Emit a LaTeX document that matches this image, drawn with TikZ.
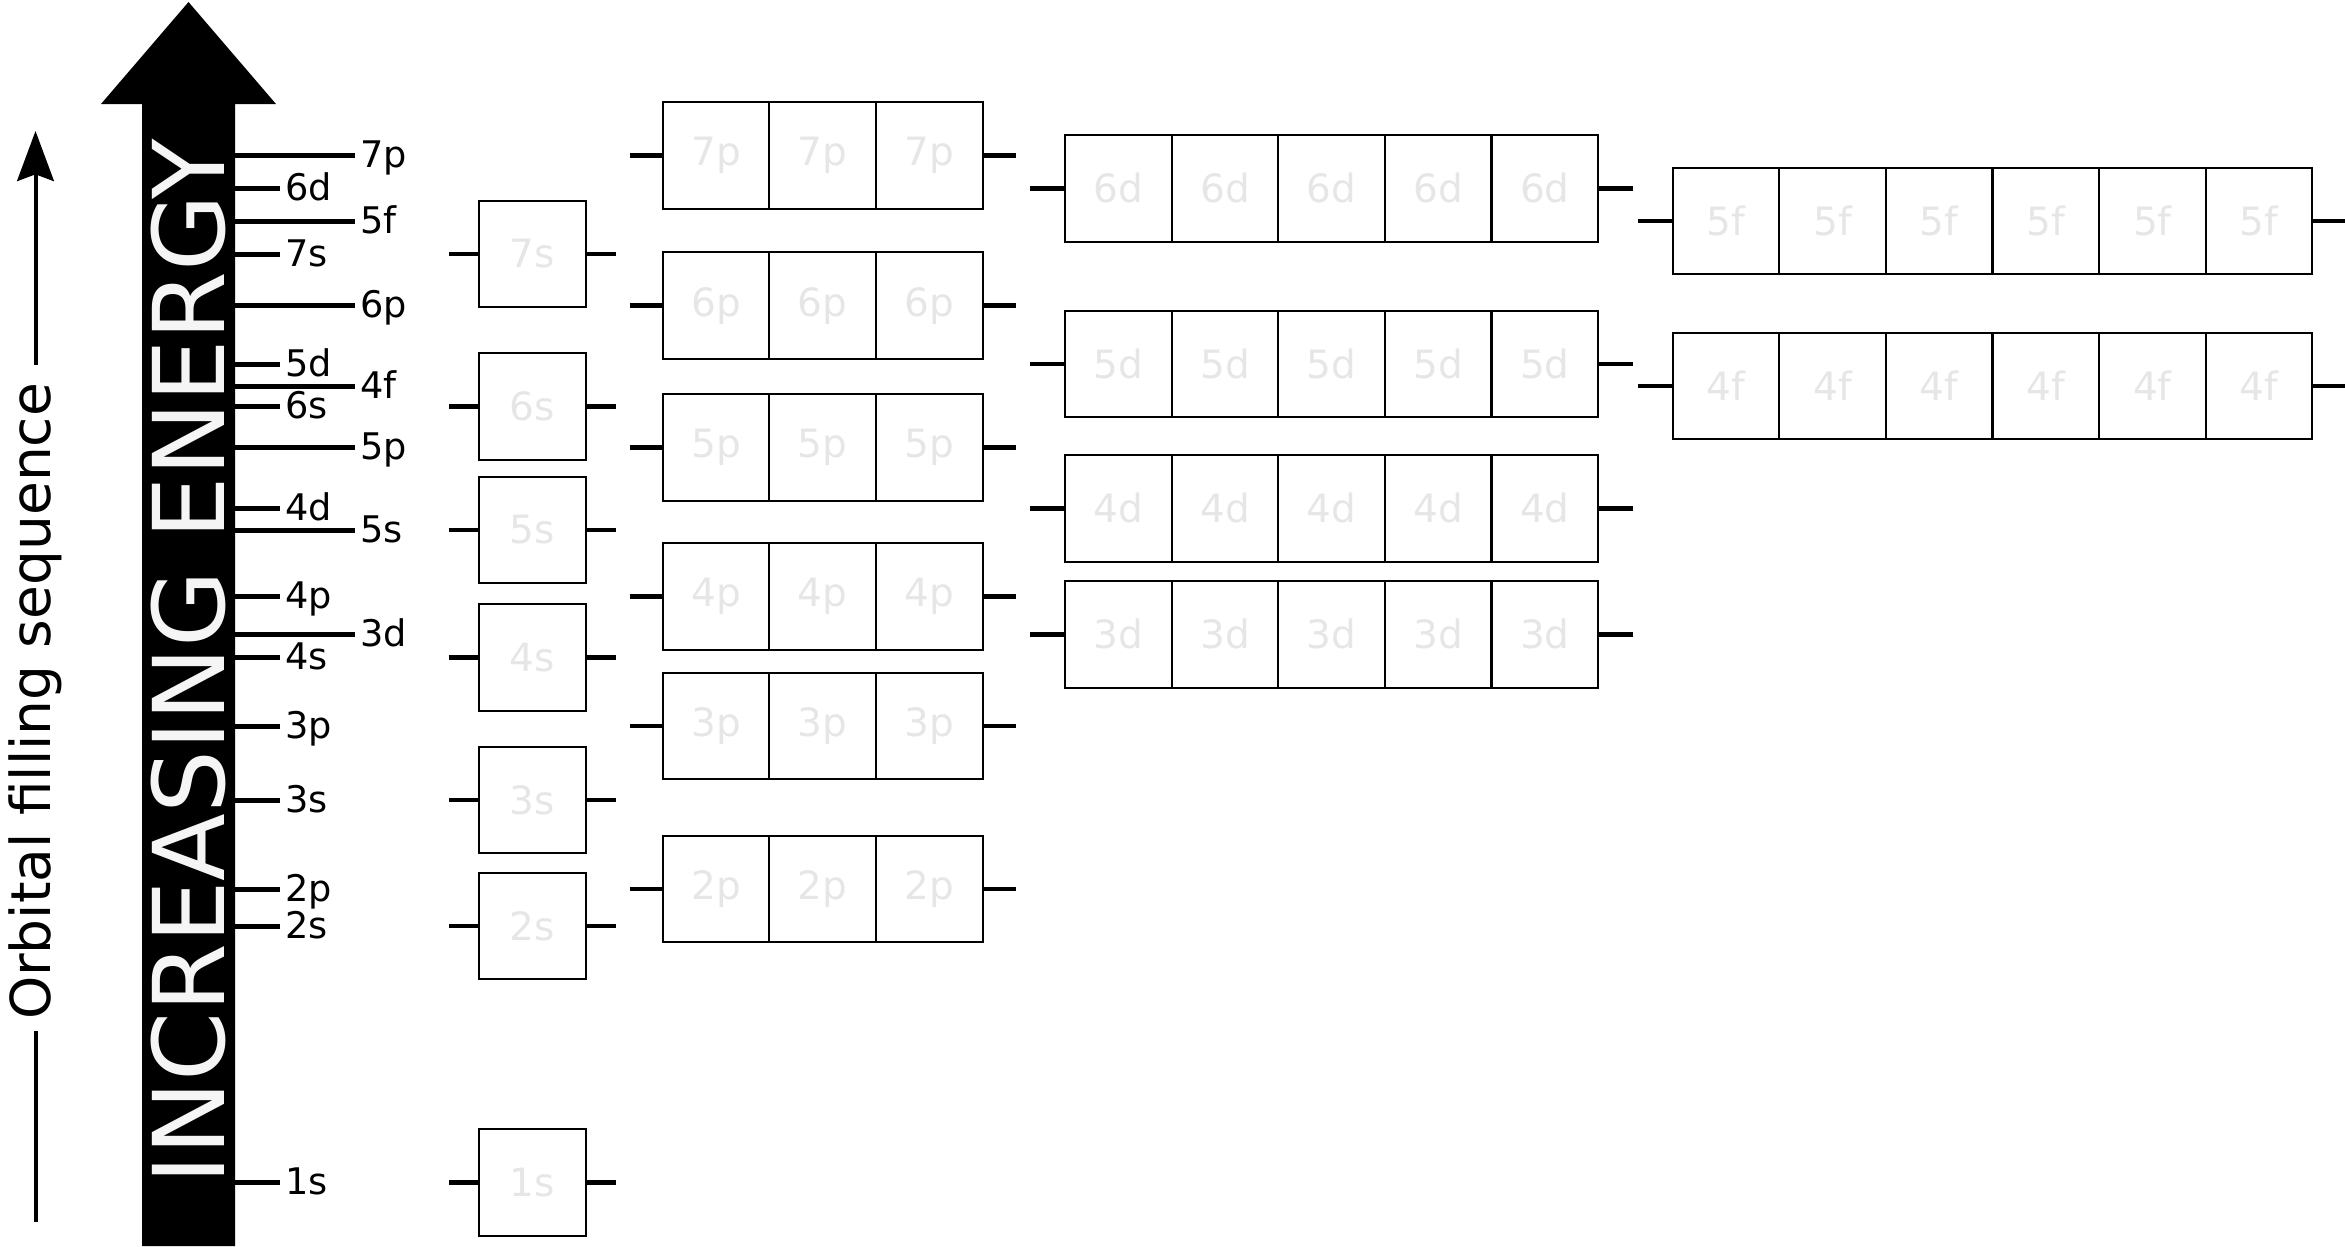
\documentclass[tikz,border=0pt]{standalone}
\usepackage{fontspec}
\setmainfont{DejaVu Sans}
\usepackage{tikz}
\usetikzlibrary{arrows.meta, positioning}
\definecolor{cell_grey}{HTML}{E6E6E6}
\definecolor{bar_white}{HTML}{F5F5F5}

\begin{document}
\begin{tikzpicture}[
  x=0.3pt, y=-0.3pt,
  cell/.style = {draw, rectangle, line width=0.6pt, minimum size=32pt, inner sep=0pt, text=cell_grey, font=\fontsize{11.7}{14}\selectfont},
  stub/.style = {line width=1.4pt},
  tick/.style = {line width=1.5pt},
  lvl/.style = {anchor=west, inner xsep=1.5pt, inner ysep=0pt, text height=0.73em, text depth=0pt, font=\fontsize{11}{13}\selectfont},
  bartext/.style = {inner sep=0pt, text=bar_white, font=\fontsize{29.7}{32}\selectfont},
  seqtext/.style = {inner sep=0pt, font=\fontsize{16.5}{18}\selectfont},
  seqline/.style = {line width=1.2pt},
]
\useasboundingbox (0,0) rectangle (2345,1246);

% Energy bar
\fill (142,1246) -- (142,104) -- (101,104) -- (188.5,2) -- (276,104) -- (235,104) -- (235,1246) -- cycle;
\node[bartext, rotate=90] (energy) at (188.5,662) {INCREASING ENERGY};
\coordinate (bar edge) at (235,0);

% Filling sequence arrow
\node[seqtext, rotate=90] (seq) at (35.5,701.5) {Orbital filling sequence};
\coordinate (seq tip) at (35.5,131);
\coordinate (seq foot) at (35.5,1222);
\draw[seqline, -{Stealth[length=15pt, width=11pt, inset=2pt]}, shorten <=5.1pt] (seq) -- (seq tip);
\draw[seqline, shorten <=3.2pt] (seq) -- (seq foot);

% Levels along the bar
\foreach \orb/\lvl/\reach in {7p/155.7/355, 6d/188.3/280, 5f/221/355, 7s/254/280, 6p/305.7/355,
    5d/364/280, 4f/386/355, 6s/406.7/280, 5p/447.7/355, 4d/508.3/280, 5s/530/355,
    4p/596.7/280, 3d/634.3/355, 4s/657.7/280, 3p/726/280, 3s/800/280, 2p/889/280,
    2s/926/280, 1s/1182.7/280}{
  \node[lvl] (lbl-\orb) at (\reach,\lvl) {\orb};
  \draw[tick] (bar edge |- lbl-\orb.west) -- (lbl-\orb);
}

% Subshell boxes
\foreach \orb/\lvl/\left/\n/\reach in {1s/1182.7/479/1/8.7pt, 2s/926/479/1/8.7pt, 3s/800/479/1/8.7pt,
    4s/657.7/479/1/8.7pt, 5s/530/479/1/8.7pt, 6s/406.7/479/1/8.7pt, 7s/254/479/1/8.7pt,
    2p/889/662.7/3/9.6pt, 3p/726/662.7/3/9.6pt, 4p/596.7/662.7/3/9.6pt, 5p/447.7/662.7/3/9.6pt,
    6p/305.7/662.7/3/9.6pt, 7p/155.7/662.7/3/9.6pt,
    3d/634.3/1065.1/5/10.2pt, 4d/508.3/1065.1/5/10.2pt, 5d/364/1065.1/5/10.2pt, 6d/188.3/1065.1/5/10.2pt,
    4f/386/1672.7/6/10pt, 5f/221/1672.7/6/10pt}{
  \foreach \i in {1,...,\n}{
    \node[cell] (\orb-\i) at ({\left+(\i-0.5)*106.6},\lvl) {\orb};
  }
  \coordinate[left=\reach of \orb-1] (\orb-in);
  \coordinate[right=\reach of \orb-\n] (\orb-out);
  \draw[stub] (\orb-in) -- (\orb-1);
  \draw[stub] (\orb-\n) -- (\orb-out);
}
\end{tikzpicture}
\end{document}
